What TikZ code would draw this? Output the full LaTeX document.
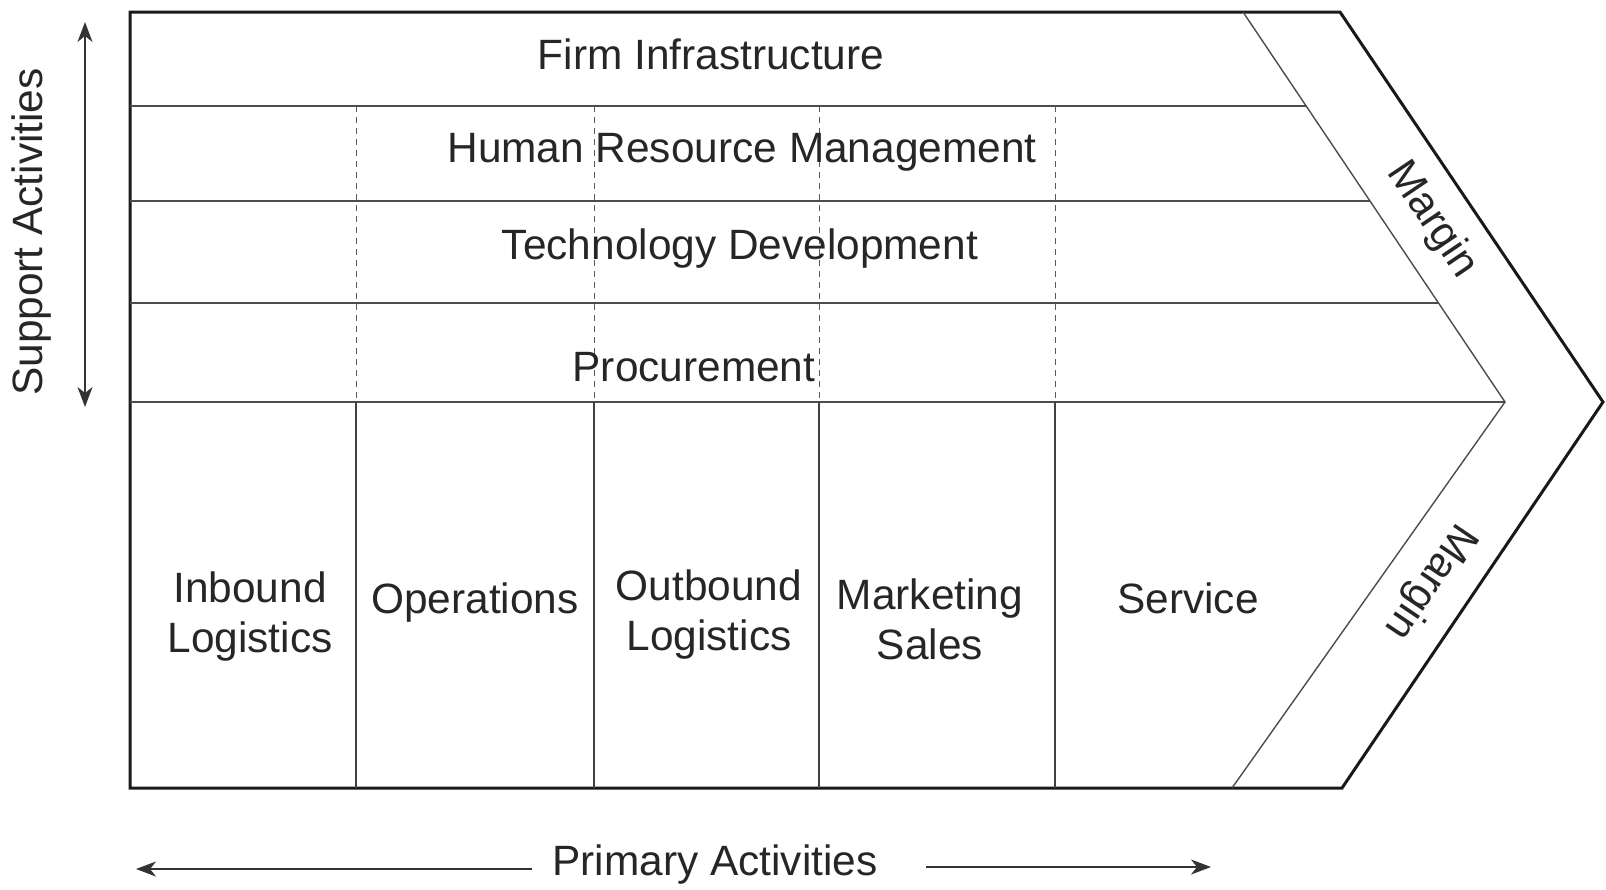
\documentclass[tikz,border=0pt]{standalone}
\usepackage{fontspec}
\setmainfont{Liberation Sans}
\usetikzlibrary{arrows.meta}
\begin{document}
\begin{tikzpicture}[x=0.5pt,y=-0.5pt,
  lbl/.style={font=\fontsize{21.2}{25}\selectfont, inner sep=0pt, align=center, text=black!85},
  frame/.style={line width=1.5pt, line join=miter, draw=black!90},
  rowline/.style={line width=0.7pt, draw=black!70},
  dashcol/.style={line width=0.5pt, dash pattern=on 3pt off 2.5pt, draw=black!65},
  solcol/.style={line width=0.6pt, draw=black!75},
  tip/.tip={Stealth[length=10pt,width=7.5pt,inset=3pt]},
  arr/.style={line width=0.6pt, draw=black!80, -tip},
  darr/.style={line width=0.6pt, draw=black!80, tip-tip}]
\useasboundingbox (0,0) rectangle (1606,889);

% frame and margin band
\draw[frame] (130,12) -- (1340,12) -- (1603,402) -- (1342,788) -- (130,788) -- cycle;
\draw[rowline] (1243,12) -- (1505,402) -- (1232,788);

% support activity rows
\draw[rowline] (130,106) -- (1306,106);
\draw[rowline] (130,201) -- (1370,201);
\draw[rowline] (130,303) -- (1438,303);
\draw[rowline] (130,402) -- (1505,402);

% column lines
\foreach \cx in {356,594,819,1055} {
  \draw[dashcol] (\cx,106) -- (\cx,402);
  \draw[solcol] (\cx,402) -- (\cx,788);
}

% support activity labels
\node[lbl] (fi) at (711,54) {Firm Infrastructure};
\node[lbl] (hrm) at (742,152) {Human Resource Management};
\node[lbl] (td) at (740,249) {Technology Development};
\node[lbl] (proc) at (694,367) {Procurement};

% primary activity labels
\node[lbl] (il) at (250,617) {Inbound\\Logistics};
\node[lbl] (ops) at (475,603) {Operations};
\node[lbl] (ol) at (709,615) {Outbound\\Logistics};
\node[lbl] (ms) at (930,619) {Marketing\\Sales};
\node[lbl] (svc) at (1188,598) {Service};

% margin labels
\node[lbl, rotate=-56] (m1) at (1432,220) {Margin};
\node[lbl, rotate=-124] (m2) at (1430,581) {Margin};

% support activities axis
\node[lbl, rotate=90] (sa) at (32,232) {Support Activities};
\coordinate (st) at (85,22);
\coordinate (sb) at (85,407);
\draw[darr] (st) -- (sb);

% primary activities axis
\node[lbl] (pa) at (715,865) {Primary Activities};
\coordinate (pl) at (136,869);
\coordinate (pr) at (1211,867);
\draw[arr, shorten <=10pt] (pa.west |- pl) -- (pl);
\draw[arr, shorten <=24pt] (pa.east |- pr) -- (pr);
\end{tikzpicture}
\end{document}
